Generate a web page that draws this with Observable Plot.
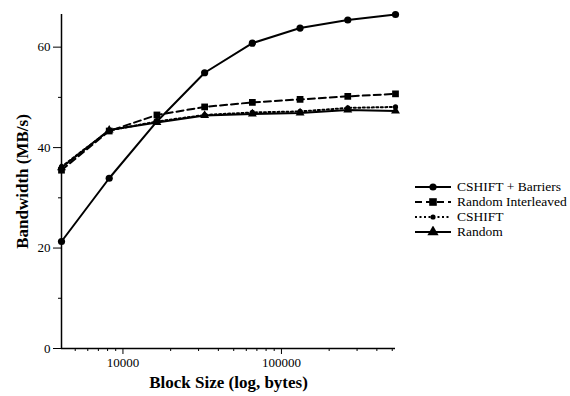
<!DOCTYPE html>
<html>
<head>
<meta charset="utf-8">
<script src="https://cdn.jsdelivr.net/npm/d3@7"></script>
<script src="https://cdn.jsdelivr.net/npm/@observablehq/plot@0.6"></script>
<style>
  html, body { margin: 0; padding: 0; background: #fff; overflow: hidden; }
  #wrap { position: relative; width: 570px; height: 396px; overflow: hidden; }
  #chart svg { font-family: "Liberation Serif", "DejaVu Serif", serif; }
  #chart svg [aria-label$="axis label"] text { font-weight: bold; font-size: 17px; }
  #legend { position: absolute; left: 414px; top: 179px; font-family: "Liberation Serif", serif; font-size: 13.5px; color: #000; white-space: nowrap; }
  #legend .row { display: flex; align-items: center; height: 15px; }
  #legend svg { margin-right: 5px; flex: none; }
</style>
</head>
<body>
<div id="wrap">
  <div id="chart"></div>
  <div id="legend"></div>
</div>
<script>
const blockSizes = [4096, 8192, 16384, 32768, 65536, 131072, 262144, 524288];
const cshiftBarriers = [21.3, 33.9, 45.2, 54.9, 60.8, 63.8, 65.4, 66.5];
const randomInterleaved = [35.5, 43.3, 46.5, 48.1, 49.0, 49.6, 50.2, 50.7];
const cshift = [36.2, 43.4, 45.2, 46.5, 47.0, 47.2, 47.9, 48.1];
const random = [36.0, 43.5, 45.0, 46.4, 46.7, 46.9, 47.5, 47.3];
const seriesNames = ["CSHIFT + Barriers", "Random Interleaved", "CSHIFT", "Random"];
const yMajorTicks = [0, 20, 40, 60];
const yMinorTicks = [10, 30, 50];
const xMajorTicks = [10000, 100000];
const xMinorTicks = [5000, 6000, 7000, 8000, 9000, 20000, 30000, 40000, 50000, 60000, 70000, 80000, 90000, 200000, 300000, 400000, 500000];

const seriesValues = [cshiftBarriers, randomInterleaved, cshift, random];
const styles = [
  {dash: null, symbol: "circle", r: 3.6},
  {dash: "7,4", symbol: "square", r: 3.8},
  {dash: "2,2.5", symbol: "circle", r: 2.6},
  {dash: null, symbol: "triangle", r: 3.3}
];
const data = [];
seriesNames.forEach((name, i) => {
  blockSizes.forEach((b, j) => data.push({series: name, size: b, bw: seriesValues[i][j]}));
});

const marks = [
  Plot.ruleX([blockSizes[0]], {stroke: "#000", strokeWidth: 1.5}),
  Plot.ruleY([0], {stroke: "#000", strokeWidth: 1.5}),
  Plot.axisY({ticks: yMajorTicks, tickSize: 8, tickPadding: 3, fontSize: 13, label: "Bandwidth (MB/s)", labelAnchor: "center", labelArrow: "none", labelOffset: 46}),
  Plot.axisY({ticks: yMinorTicks, tickSize: 3, tickFormat: () => "", label: null}),
  Plot.axisX({ticks: xMajorTicks, tickSize: 6, tickPadding: 3, fontSize: 13, tickFormat: d3.format("d"), label: "Block Size (log, bytes)", labelAnchor: "center", labelArrow: "none", labelOffset: 39}),
  Plot.axisX({ticks: xMinorTicks, tickSize: 3, tickFormat: () => "", label: null})
];
seriesNames.forEach((name, i) => {
  const d = data.filter(r => r.series === name);
  const s = styles[i];
  marks.push(Plot.line(d, {x: "size", y: "bw", stroke: "#000", strokeWidth: 2, strokeDasharray: s.dash}));
  marks.push(Plot.dot(d, {x: "size", y: "bw", symbol: () => s.symbol, r: s.r, fill: "#000", stroke: "none"}));
});

const chart = Plot.plot({
  width: 570,
  height: 396,
  marginLeft: 61,
  marginRight: 175,
  marginTop: 14,
  marginBottom: 48,
  style: {fontFamily: "Liberation Serif", fontSize: "13px", color: "#000"},
  x: {type: "log", domain: [4096, 524288]},
  y: {domain: [0, 66.5]},
  symbol: {type: "identity"},
  marks
});
document.getElementById("chart").appendChild(chart);

// legend
const legend = d3.select("#legend");
seriesNames.forEach((name, i) => {
  const s = styles[i];
  const row = legend.append("div").attr("class", "row");
  const svg = row.append("svg").attr("width", 38).attr("height", 12);
  svg.append("line").attr("x1", 1).attr("x2", 37).attr("y1", 6).attr("y2", 6)
    .attr("stroke", "#000").attr("stroke-width", 2).attr("stroke-dasharray", s.dash);
  const sym = s.symbol === "square" ? d3.symbolSquare : s.symbol === "triangle" ? d3.symbolTriangle : d3.symbolCircle;
  const area = s.symbol === "square" ? (2 * s.r) ** 2 : s.symbol === "triangle" ? s.r * s.r * 5 : Math.PI * s.r * s.r;
  svg.append("path").attr("transform", "translate(19,6)").attr("d", d3.symbol(sym, area)()).attr("fill", "#000");
  row.append("span").text(name);
});
</script>
</body>
</html>
